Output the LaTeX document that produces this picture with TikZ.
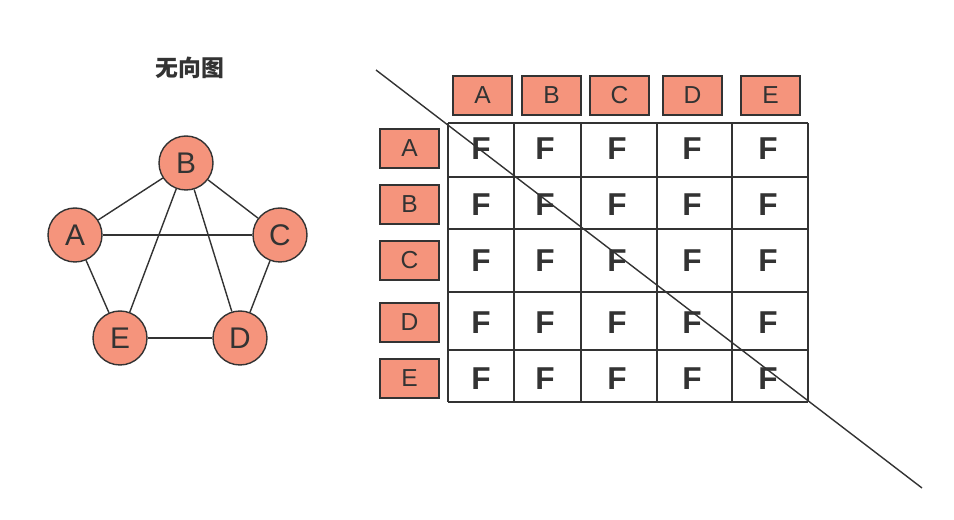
\documentclass[tikz,border=0pt]{standalone}
\usepackage{fontspec}
\setmainfont{Liberation Sans}
\newfontfamily\cjk{Noto Sans CJK SC}
\definecolor{salmon}{RGB}{245,148,124}
\definecolor{tred}{RGB}{240,40,40}
\definecolor{dk}{RGB}{51,51,51}
\begin{document}
\begin{tikzpicture}[x=0.02cm,y=-0.02cm,
  vtx/.style={circle,draw=dk,fill=salmon,line width=0.8pt,minimum size=1.08cm,inner sep=0pt,font=\fontsize{17}{17}\selectfont,text=dk},
  hdr/.style={draw=dk,fill=salmon,line width=0.8pt,minimum width=1.18cm,minimum height=0.78cm,inner sep=0pt,font=\fontsize{14}{14}\selectfont,text=dk},
  edge/.style={draw=dk,line width=0.8pt},
  tv/.style={font=\bfseries\fontsize{18}{18}\selectfont,text=tred},
  fv/.style={font=\bfseries\fontsize{18}{18}\selectfont,text=dk}]
\useasboundingbox (0,0) rectangle (954,520);
\node[font=\cjk\bfseries\fontsize{13}{13}\selectfont,text=dk] (title) at (190,68) {无向图};
\node[vtx] (B) at (186,163) {B};
\node[vtx] (A) at (75,235) {A};
\node[vtx] (C) at (280,235) {C};
\node[vtx] (E) at (120,338) {E};
\node[vtx] (D) at (240,338) {D};
\foreach \u/\v in {A/B,B/C,A/C,A/E,B/E,B/D,C/D,E/D} \draw[edge] (\u) -- (\v);
% column headers
\foreach \n/\x in {A/482.5,B/551.5,C/619.5,D/692.5,E/770.5}
  \node[hdr] (c\n) at (\x,95.5) {\n};
\foreach \n/\y in {A/148.5,B/204.5,C/260.5,D/322.5,E/378.5}
  \node[hdr] (r\n) at (409.5,\y) {\n};
% grid
\foreach \x in {448,514,581,657,732,808} \draw[edge] (\x,123) -- (\x,402);
\foreach \y in {123,177,229,292,350,402} \draw[edge] (448,\y) -- (808,\y);
% values
\def\cx{{481,545,617,692,768}}
\foreach \y/\row in {149/{F,T,T,F,T},205/{T,F,T,T,T},261/{T,T,F,T,F},323/{F,T,T,F,T},379/{T,T,F,T,F}}{
  \foreach \v [count=\i from 0] in \row {
    \pgfmathsetmacro\xx{\cx[\i]}
    \ifx\v T\node[tv] at (\xx,\y) {T};\else\node[fv] at (\xx,\y) {F};\fi
  }
}
\coordinate (d1) at (376,70);
\coordinate (d2) at (922,488);
\draw[edge] (d1) -- (d2);
\end{tikzpicture}
\end{document}
